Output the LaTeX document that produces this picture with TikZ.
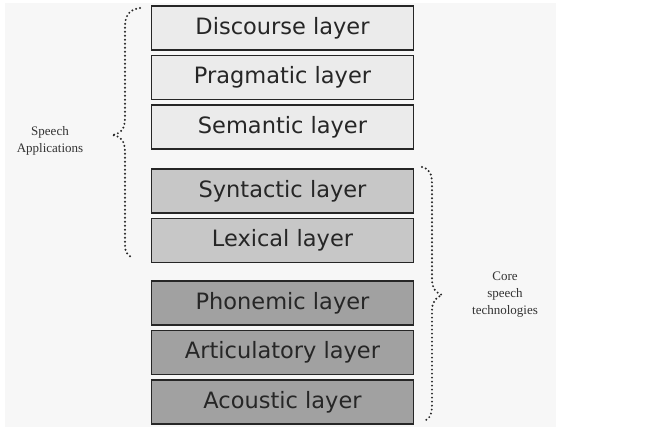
\documentclass[tikz,border=0pt]{standalone}
\usepackage{fontspec}
\setmainfont{Liberation Serif}
\newfontfamily\layerfont{DejaVu Sans}
\usepackage{tikz}
\usetikzlibrary{positioning}
\tikzset{layer/.style={draw=black!85, line width=1.6pt, minimum width=262pt, minimum height=44pt, inner sep=0pt,
    font=\layerfont\fontsize{22.5}{26}\selectfont, text=black!85}}
\tikzset{upper/.style={layer, fill=black!8}, middle/.style={layer, fill=black!22}, lower/.style={layer, fill=black!37}}
\tikzset{brace/.style={line width=2.2pt, line cap=round, dash pattern=on 0pt off 4pt, black!85}}
\tikzset{side/.style={align=center, font=\fontsize{13}{17}\selectfont, text=black!80}}

\begin{document}
\begin{tikzpicture}[x=1pt, y=-1pt, node distance=4pt]
          \useasboundingbox (0,0) rectangle (652,436);
          \fill[black!3] (5,3) rectangle (556,427);
          \node[upper] at (282.5,28) (discourse) {Discourse layer};
          \node[upper, below=of discourse] (pragmatic) {Pragmatic layer};
          \node[upper, below=of pragmatic] (semantic) {Semantic layer};
          \node[middle, below=18pt of semantic] (syntactic) {Syntactic layer};
          \node[middle, below=of syntactic] (lexical) {Lexical layer};
          \node[lower, below=17pt of lexical] (phonemic) {Phonemic layer};
          \node[lower, below=of phonemic] (articulatory) {Articulatory layer};
          \node[lower, below=of articulatory] (acoustic) {Acoustic layer};
          % braces
          \draw[brace] (140,8) .. controls (128,10) and (125,16) .. (125,28) -- (125,118)
            .. controls (125,130) and (120,134) .. (112,135) .. controls (120,136) and (125,140) .. (125,152)
            -- (125,245) .. controls (125,252) and (128,256) .. (133,258);
          \draw[brace] (422,167) .. controls (430,169) and (432,174) .. (432,185) -- (432,280)
            .. controls (432,288) and (436,293) .. (442,295) .. controls (436,297) and (432,302) .. (432,310)
            -- (432,405) .. controls (432,414) and (430,418) .. (426,420);
          \node[side] at (50,141) (apps) {Speech\\Applications};
          \node[side] at (505,295) (core) {Core\\speech\\technologies};
        \end{tikzpicture}
\end{document}
